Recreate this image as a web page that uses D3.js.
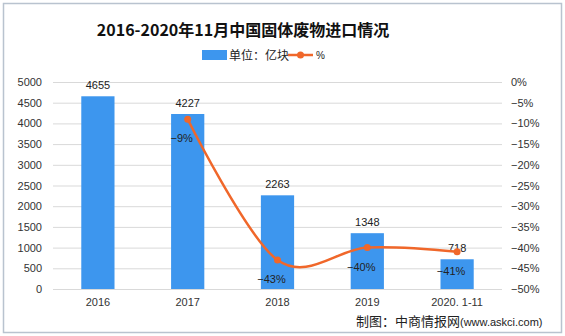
<!DOCTYPE html>
<html><head><meta charset="utf-8">
<script src="https://cdn.jsdelivr.net/npm/d3@7/dist/d3.min.js"></script>
<style>body{margin:0;background:#fff}svg{display:block;font-family:"Liberation Sans","DejaVu Sans",sans-serif}</style>
</head><body><svg id="c" width="565" height="336"></svg>
<script>
const categories = ["2016","2017","2018","2019","2020.1-11"];
const imports = [4655, 4227, 2263, 1348, 718];
const growth = [null, -9, -43, -40, -41];
const leftTicks = [0,500,1000,1500,2000,2500,3000,3500,4000,4500,5000];
const rightTicks = [0,-5,-10,-15,-20,-25,-30,-35,-40,-45,-50];

const svg = d3.select("#c");
const cjk = '"Noto Sans CJK SC","Noto Sans",sans-serif';
svg.append("rect").attr("x",3.5).attr("y",3.5).attr("width",558).attr("height",329)
  .attr("fill","#fff").attr("stroke","#b9c3cf").attr("stroke-width",1.5);

const L=53, R=502, T=82, B=289;
const x = d3.scaleBand().domain(categories).range([L,R]).paddingInner(0.63).paddingOuter(0.315);
const y = d3.scaleLinear().domain([0,5000]).range([B,T]);
const y2 = d3.scaleLinear().domain([-50,0]).range([B,T]);

// grid
svg.append("g").selectAll("line").data(leftTicks).join("line")
  .attr("x1",L).attr("x2",R).attr("y1",d=>y(d)+0.5).attr("y2",d=>y(d)+0.5)
  .attr("stroke","#d9d9d9").attr("stroke-width",1);

// left axis
const ga = svg.append("g").attr("transform",`translate(${L-8},0)`)
  .call(d3.axisLeft(y).tickValues(leftTicks).tickSize(0).tickPadding(3).tickFormat(d=>String(d)));
ga.select(".domain").remove();
ga.selectAll("text").attr("font-size",11).attr("fill","#333");

// right axis
const gr = svg.append("g").attr("transform",`translate(${R+6},0)`)
  .call(d3.axisRight(y2).tickValues(rightTicks).tickSize(0).tickPadding(3).tickFormat(d=>(d===0?"0":"\u2212"+Math.abs(d))+"%"));
gr.select(".domain").remove();
gr.selectAll("text").attr("font-size",11).attr("fill","#333");

// x axis
const gx = svg.append("g").attr("transform",`translate(0,${B})`)
  .call(d3.axisBottom(x).tickSize(0).tickPadding(9).tickFormat(d=>d.replace(".", ". ")));
gx.select(".domain").remove();
gx.selectAll("text").attr("font-size",11).attr("fill","#333");

// bars
svg.append("g").selectAll("rect").data(imports).join("rect")
  .attr("x",(d,i)=>x(categories[i])).attr("width",x.bandwidth())
  .attr("y",d=>y(d)).attr("height",d=>B-y(d)).attr("fill","#3d96ee");
svg.append("g").selectAll("text").data(imports).join("text")
  .attr("x",(d,i)=>x(categories[i])+x.bandwidth()/2).attr("y",d=>y(d)-7)
  .attr("text-anchor","middle").attr("font-size",11).attr("fill","#222").text(d=>d);

// line
const pts = growth.map((g,i)=>({g,c:categories[i]})).filter(d=>d.g!==null);
const cx = d=>x(d.c)+x.bandwidth()/2;
svg.append("path").datum(pts)
  .attr("d",d3.line().x(cx).y(d=>y2(d.g)).curve(d3.curveCardinal.tension(0)))
  .attr("fill","none").attr("stroke","#f0672a").attr("stroke-width",2.5);
svg.append("g").selectAll("circle").data(pts).join("circle")
  .attr("cx",cx).attr("cy",d=>y2(d.g)).attr("r",3.5).attr("fill","#f0672a");
svg.append("g").selectAll("text").data(pts).join("text")
  .attr("x",d=>cx(d)-6).attr("y",d=>y2(d.g)+23)
  .attr("text-anchor","middle").attr("font-size",11).attr("fill","#222")
  .text(d=>"\u2212"+Math.abs(d.g)+"%");

// title
svg.append("text").attr("x",243).attr("y",36).attr("text-anchor","middle")
  .attr("font-size",16).attr("font-weight","bold").attr("fill","#111")
  .style("font-family",cjk).text("2016-2020年11月中国固体废物进口情况");

// legend
svg.append("rect").attr("x",202).attr("y",50).attr("width",25).attr("height",10).attr("fill","#3d96ee");
svg.append("text").attr("x",229).attr("y",59.5).attr("font-size",12).attr("fill","#222")
  .style("font-family",cjk).text("单位：亿块");
svg.append("line").attr("x1",288).attr("x2",313).attr("y1",55).attr("y2",55).attr("stroke","#f0672a").attr("stroke-width",2.5);
svg.append("circle").attr("cx",300.5).attr("cy",55).attr("r",3.5).attr("fill","#f0672a");
svg.append("text").attr("x",316).attr("y",59).attr("font-size",10).attr("fill","#222").text("%");

// source
svg.append("text").attr("x",356).attr("y",326).attr("font-size",13).attr("fill","#222")
  .style("font-family",cjk).text("制图：中商情报网")
  .append("tspan").attr("font-size",11).style("font-family","'Liberation Sans',sans-serif").text("(www.askci.com)");
</script></body></html>
